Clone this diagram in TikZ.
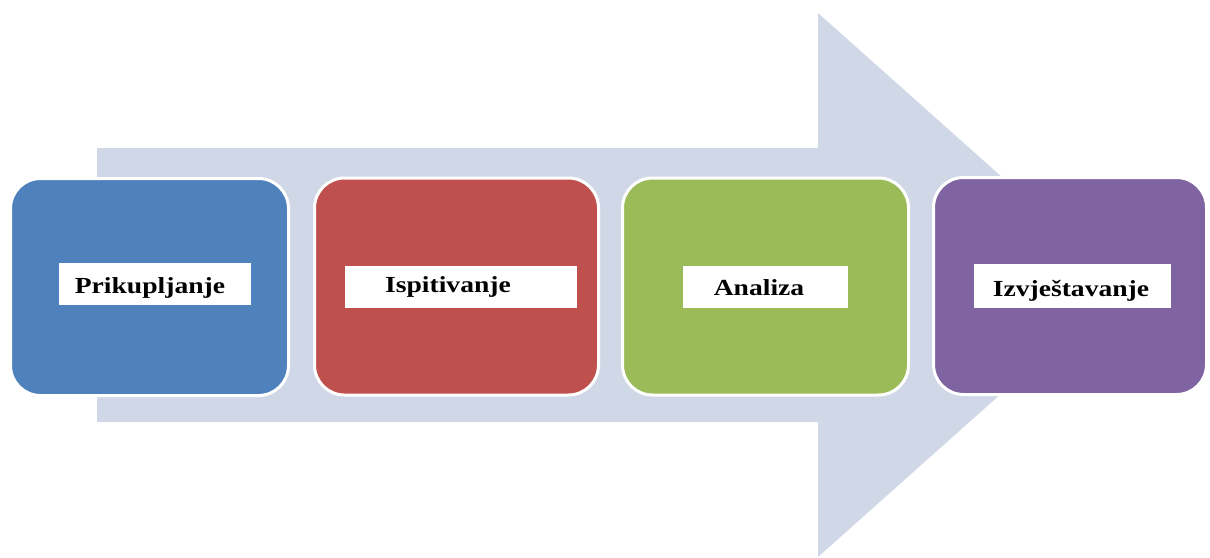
\documentclass[tikz,border=0pt]{standalone}
\usepackage{fontspec}
\setmainfont{Liberation Serif}
\definecolor{arrowc}{HTML}{D0D8E8}
\definecolor{c1}{HTML}{4F81BD}
\definecolor{c2}{HTML}{C0504D}
\definecolor{c3}{HTML}{9BBB59}
\definecolor{c4}{HTML}{8064A2}
\tikzset{
  stagebox/.style={draw=white, line width=3pt, rounded corners=30pt, minimum height=217pt, inner sep=0pt},
  labelbox/.style={fill=white, draw=none, minimum height=42pt, inner sep=0pt},
  labeltext/.style={anchor=base, inner sep=0pt, font=\fontsize{23}{23}\selectfont\bfseries},
}
\begin{document}
\begin{tikzpicture}[x=1pt,y=-1pt]
\useasboundingbox (0,0) rectangle (1210,557);
% big arrow
\fill[arrowc] (97,148) -- (818,148) -- (818,13) -- (1123,285) -- (818,557) -- (818,422) -- (97,422) -- cycle;
% stage boxes
\node[stagebox, fill=c1, minimum width=278pt] (b1) at (149.5,287) {};
\node[stagebox, fill=c2, minimum width=284pt] (b2) at (456.5,286.5) {};
\node[stagebox, fill=c3, minimum width=286pt] (b3) at (765.5,286.5) {};
\node[stagebox, fill=c4, minimum width=273pt] (b4) at (1070,286) {};
% label boxes
\node[labelbox, minimum width=192pt] (l1) at (155,284) {};
\node[labelbox, minimum width=232pt] (l2) at (461,287) {};
\node[labelbox, minimum width=165pt] (l3) at (765.5,287) {};
\node[labelbox, minimum width=197pt, minimum height=44pt] (l4) at (1072.5,286) {};
% texts
\node[labeltext] (t1) at (150,293) {\scalebox{1.2}[1]{Prikupljanje}};
\node[labeltext] (t2) at (448,292) {\scalebox{1.2}[1]{Ispitivanje}};
\node[labeltext] (t3) at (759,295) {\scalebox{1.2}[1]{Analiza}};
\node[labeltext] (t4) at (1071,296) {\scalebox{1.2}[1]{Izvještavanje}};
\end{tikzpicture}
\end{document}
